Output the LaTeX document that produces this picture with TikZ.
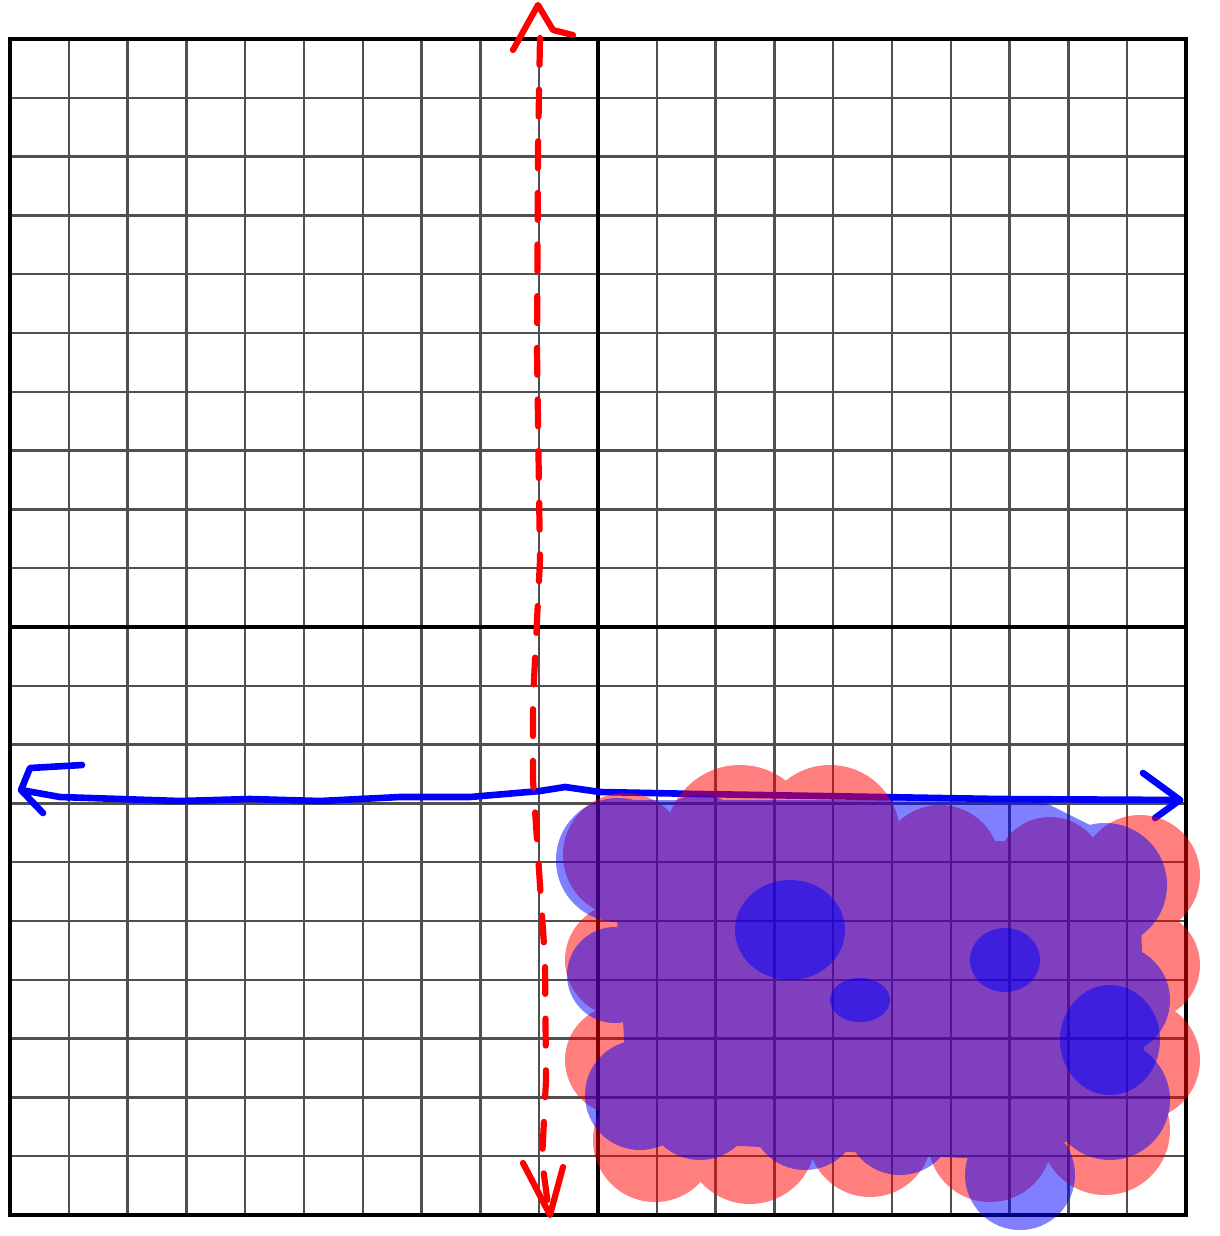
\documentclass[tikz,border=0pt]{standalone}
\usepackage{xcolor}
\definecolor{gridgray}{HTML}{505050}
\definecolor{inkred}{HTML}{FF0000}
\definecolor{inkblue}{HTML}{0000FF}
\usepackage{tikz}
\usetikzlibrary{calc}

\begin{document}
\begin{tikzpicture}[
  x=0.017007cm, y=-0.017007cm,
  gridline/.style={line width=1.2pt, gridgray},
  gridaxis/.style={line width=2.4pt, black},
  redpen/.style={line width=3pt, inkred, line cap=round, line join=round},
  bluepen/.style={line width=3.2pt, inkblue, line cap=round, line join=round},
  wash/.style={transparency group, opacity=0.5}
]
  \useasboundingbox (0,0) rectangle (1220,1236);
  % grid
  \foreach \i in {1,...,9,11,12,...,19} {
    \draw[gridline] (10+58.8*\i,39) -- (10+58.8*\i,1215);
    \draw[gridline] (10,39+58.8*\i) -- (1186,39+58.8*\i);
  }
  \draw[gridaxis] (598,39) -- (598,1215);
  \draw[gridaxis] (10,627) -- (1186,627);
  \draw[gridaxis] (10,39) rectangle (1186,1215);
  % arrow ends
  \coordinate (xleft) at (21,790);
  \coordinate (xright) at (1180,800);
  \coordinate (ytop) at (538,5);
  \coordinate (ybot) at (550,1215);
  % blue boundary line
  \draw[bluepen] (xleft) -- (60,797) -- (180,801) -- (250,799) -- (320,801)
    -- (400,797) -- (470,797) -- (540,791) -- (565,787) -- (600,792)
    -- (700,794) -- (820,796) -- (1000,799) -- (xright);
  \draw[bluepen] (82,765) -- (30,768) -- (xleft) -- (43,813);
  \draw[bluepen] (1143,773) -- (xright) -- (1155,818);
  % red wash
  \begin{scope}[wash]
    \fill[inkred] (620,830) -- (1130,845) -- (1140,1140) -- (640,1150) -- cycle;
    \fill[inkred] \foreach \cx/\cy/\r in {625/855/62, 740/840/75, 830/835/70,
        940/865/60, 1050/872/55, 1140/875/60, 1145/965/55, 1140/1060/60,
        1105/1130/65, 990/1140/62, 870/1135/62, 750/1138/66, 655/1140/62,
        620/1060/55, 622/960/57} {(\cx,\cy) circle (\r)};
  \end{scope}
  % blue wash
  \begin{scope}[wash]
    \fill[inkblue] (610,800) -- (1040,800) -- (1140,850) -- (1145,1120)
      -- (1000,1160) -- (630,1140) -- cycle;
    \fill[inkblue] \foreach \cx/\cy/\r in {618/860/62, 700/850/55, 1000/845/48,
        1105/885/62, 1115/1000/55, 1110/1100/60, 1020/1175/55, 900/1120/55,
        805/1115/55, 700/1105/55, 640/1095/55, 615/975/48} {(\cx,\cy) circle (\r)};
  \end{scope}
  % darker strokes
  \fill[inkblue, opacity=0.5] (790,930) ellipse (55 and 50);
  \fill[inkblue, opacity=0.5] (1005,960) ellipse (35 and 32);
  \fill[inkblue, opacity=0.5] (1110,1040) ellipse (50 and 55);
  \fill[inkblue, opacity=0.5] (860,1000) ellipse (30 and 22);
  % red dashed boundary
  \draw[redpen, dash pattern=on 13pt off 12pt] (540,38) -- (538,150)
    -- (537,350) -- (540,560) -- (533,700) -- (533,780) -- (545,960)
    -- (546,1080) -- (542,1160) -- (548,1205);
  \draw[redpen] (513,50) -- (ytop) -- (553,30) -- (573,35);
  \draw[redpen] (523,1163) -- (ybot) -- (563,1167);
\end{tikzpicture}
\end{document}
